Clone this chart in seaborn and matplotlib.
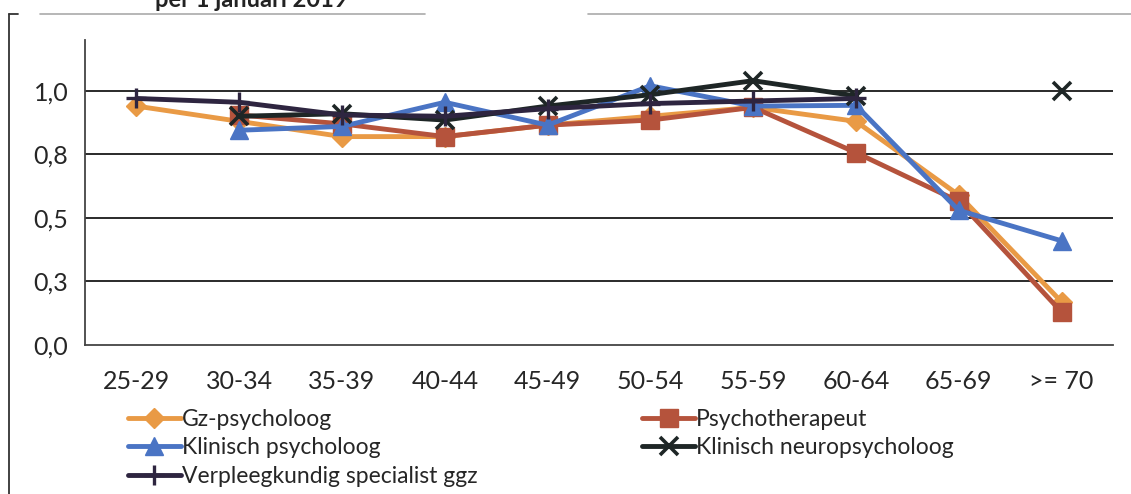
import numpy as np
import pandas as pd
import matplotlib
matplotlib.use('Agg')
import matplotlib.pyplot as plt
from matplotlib.lines import Line2D
import seaborn as sns

# leeftijdsklassen en waarden per beroep
categories = ["25-29", "30-34", "35-39", "40-44", "45-49",
              "50-54", "55-59", "60-64", "65-69", ">= 70"]
gz_psycholoog = [0.94, 0.88, 0.82, 0.82, 0.865, 0.90, 0.935, 0.88, 0.59, 0.17]
psychotherapeut = [np.nan, 0.905, 0.87, 0.82, 0.865, 0.885, 0.935, 0.757, 0.565, 0.13]
klinisch_psycholoog = [np.nan, 0.845, 0.86, 0.955, 0.865, 1.02, 0.94, 0.943, 0.53, 0.41]
klinisch_neuro = [np.nan, 0.90, 0.91, 0.885, 0.94, 0.985, 1.04, 0.98, np.nan, 1.0]
verpleegkundig = [0.97, 0.955, 0.905, 0.90, 0.93, 0.95, 0.96, 0.97, np.nan, np.nan]

series_names = ["Gz-psycholoog", "Psychotherapeut", "Klinisch psycholoog",
                "Klinisch neuropsycholoog", "Verpleegkundig specialist ggz"]
y_ticks = [0.0, 0.25, 0.5, 0.75, 1.0]
y_tick_labels = ["0,0", "0,3", "0,5", "0,8", "1,0"]
title_text = "per 1 januari 2019"

colors = {
    "Gz-psycholoog": "#E99A45",
    "Psychotherapeut": "#B5533C",
    "Klinisch psycholoog": "#4A74C4",
    "Klinisch neuropsycholoog": "#1E2626",
    "Verpleegkundig specialist ggz": "#2E2540",
}
# marker, grootte, randdikte
marker_style = {
    "Gz-psycholoog": ("D", 10, 1.0),
    "Psychotherapeut": ("s", 12.5, 1.0),
    "Klinisch psycholoog": ("^", 13, 1.0),
    "Klinisch neuropsycholoog": ("x", 13, 2.6),
    "Verpleegkundig specialist ggz": ("+", 15, 2.4),
}

# lange tabel; onderbrekingen (NaN) worden aparte segmenten
rows = []
for name, vals in zip(series_names, [gz_psycholoog, psychotherapeut, klinisch_psycholoog,
                                     klinisch_neuro, verpleegkundig]):
    seg = 0
    prev_nan = True
    for i, v in enumerate(vals):
        if np.isnan(v):
            prev_nan = True
            continue
        if prev_nan:
            seg += 1
        prev_nan = False
        rows.append({"pos": i, "waarde": v, "beroep": name, "seg": f"{name}_{seg}"})
df = pd.DataFrame(rows)

sns.set_theme(style='white')
plt.rcParams['font.family'] = ['Lato', 'DejaVu Sans']

fig = plt.figure(figsize=(11.31, 4.94), dpi=100)
ax = fig.add_axes([0.0752, 0.3016, 0.9088, 0.6174])

LW = 3.5
for name in series_names:
    m, ms, mew = marker_style[name]
    sub = df[df["beroep"] == name]
    for seg_id, part in sub.groupby("seg", sort=False):
        sns.lineplot(data=part, x="pos", y="waarde", ax=ax, color=colors[name],
                     linewidth=LW, marker=m, markersize=ms, markeredgewidth=mew,
                     markeredgecolor=colors[name], estimator=None, legend=False,
                     zorder=3)

# assen
ax.set_xlim(-0.5, len(categories) - 0.5)
ax.set_ylim(0, 1.2)
ax.set_xticks(range(len(categories)))
ax.set_xticklabels(categories, fontsize=18)
ax.set_xticks(np.arange(-0.5, len(categories)), minor=True)
ax.tick_params(axis='x', which='major', length=0, pad=18)
ax.tick_params(axis='x', which='minor', length=7, width=1.2, color='#333333', direction='out')
ax.set_yticks(y_ticks)
ax.set_yticklabels(y_tick_labels, fontsize=18)
ax.tick_params(axis='y', length=7, width=1.2, color='#333333', direction='out', pad=5)
ax.set_xlabel("")
ax.set_ylabel("")
for yv in y_ticks[1:]:
    ax.axhline(yv, color='#2A2A2A', linewidth=1.4, zorder=1)
for side in ['top', 'right']:
    ax.spines[side].set_visible(False)
for side in ['left', 'bottom']:
    ax.spines[side].set_color('#444444')
    ax.spines[side].set_linewidth(1.3)

# legenda, rij voor rij zoals in het origineel
order = ["Gz-psycholoog", "Klinisch psycholoog", "Verpleegkundig specialist ggz",
         "Psychotherapeut", "Klinisch neuropsycholoog"]
handles = []
for n in order:
    m, ms, mew = marker_style[n]
    handles.append(Line2D([], [], color=colors[n], linewidth=LW, marker=m,
                          markersize=ms, markeredgewidth=mew, markeredgecolor=colors[n]))
fig.legend(handles, order, loc='upper left', bbox_to_anchor=(0.113, 0.172),
           ncol=2, frameon=False, fontsize=16.5, handlelength=2.3, handletextpad=0.05,
           columnspacing=7.2, labelspacing=0.32, borderaxespad=0, borderpad=0)

# titel (bovenaan afgesneden) en kader
fig.text(0.137, 0.986, title_text, fontsize=17, fontweight='bold', color='#222222',
         va='baseline', ha='left')
fig.add_artist(Line2D([0.035, 0.376], [0.972, 0.972], color='#AAAAAA', linewidth=1.2))
fig.add_artist(Line2D([0.52, 1.0], [0.972, 0.972], color='#AAAAAA', linewidth=1.2))
fig.add_artist(Line2D([0.008, 0.008], [0.0, 0.972], color='#333333', linewidth=1.3))
fig.add_artist(Line2D([0.008, 0.016], [0.972, 0.972], color='#333333', linewidth=1.3))

fig.savefig("out.png", dpi=100)
